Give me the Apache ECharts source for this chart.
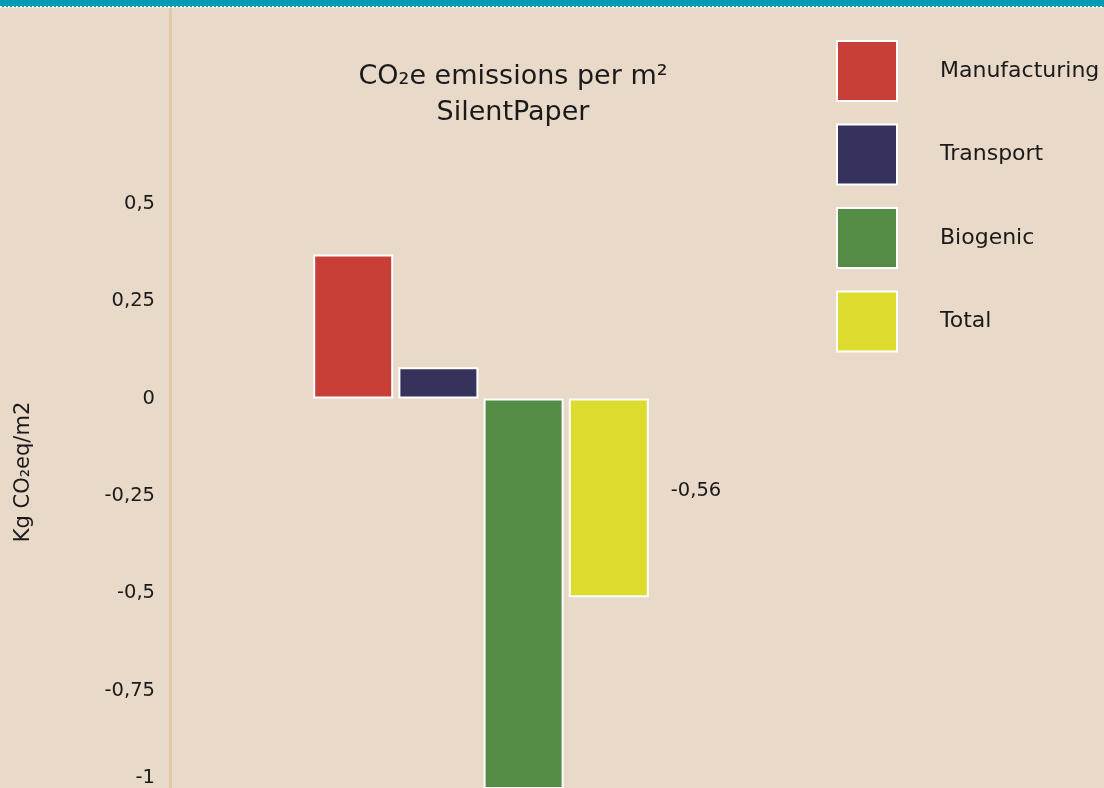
<!DOCTYPE html>
<html><head><meta charset="utf-8">
<script src="https://cdn.jsdelivr.net/npm/echarts@6/dist/echarts.min.js"></script>
<style>html,body{margin:0;padding:0;background:#e9d9c9;}#c{width:1104px;height:788px;}</style>
</head><body><div id="c"></div>
<script>
const categories = [''];
const seriesNames = ['Manufacturing', 'Transport', 'Biogenic', 'Total'];
const manufacturing = [0.37];
const transport = [0.08];
const biogenic = [-1.01];
const total = [-0.51];
const totalLabel = ['-0,56'];
const colors = ['#c83f37', '#35335c', '#538c44', '#dddb2e'];
const titleLines = ['CO\u2082e emissions per m\u00b2', 'SilentPaper'];
const yAxisTitle = 'Kg CO\u2082eq/m2';

const FONT = '"DejaVu Sans", sans-serif';
const chart = echarts.init(document.getElementById('c'), null, {renderer: 'canvas'});
const seriesData = [manufacturing, transport, biogenic, total];
const series = seriesNames.map((n, i) => ({
  name: n,
  type: 'bar',
  data: seriesData[i],
  barWidth: 80,
  barGap: '6.5%',
  itemStyle: {color: colors[i], borderColor: '#ffffff', borderWidth: 2},
  label: i === 3 ? {show: true, position: 'right', distance: 22, formatter: (p) => totalLabel[p.dataIndex], color: '#1a1a1a', fontSize: 19.5, fontFamily: FONT, offset: [0, -7]} : {show: false}
}));
chart.setOption({
  backgroundColor: '#e9d9c9',
  animation: false,
  title: {
    text: titleLines.join('\n'),
    left: 513, top: 59, textAlign: 'center', padding: 0,
    textStyle: {fontSize: 27, fontWeight: 'normal', color: '#1a1a1a', fontFamily: FONT, lineHeight: 36}
  },
  legend: {
    orient: 'vertical', left: 836, top: 40, padding: 0,
    itemWidth: 60, itemHeight: 60, itemGap: 21.5,
    icon: 'rect',
    data: seriesNames,
    textStyle: {fontSize: 22, color: '#1a1a1a', fontFamily: FONT, padding: [4, 0, 0, 38]}
  },
  grid: {left: 170, right: 312, top: 9, bottom: 0, containLabel: false, outerBoundsMode: 'none'},
  xAxis: {type: 'category', data: categories, show: false},
  yAxis: {
    type: 'value', min: -1, max: 1, interval: 0.25,
    axisLine: {show: true, lineStyle: {color: '#e2c8a8', width: 3}},
    axisTick: {show: false},
    splitLine: {show: false},
    axisLabel: {
      margin: 15, fontSize: 19.5, color: '#1a1a1a', fontFamily: FONT,
      verticalAlignMinLabel: 'bottom',
      formatter: (v) => v > 0.5 ? '' : String(v).replace('.', ',')
    }
  },
  graphic: [
    {type: 'rect', shape: {x: 0, y: 0, width: 1104, height: 7}, style: {fill: '#009ab3'}, z: 100},
    {type: 'line', shape: {x1: 0, y1: 7, x2: 1104, y2: 7}, style: {stroke: '#ffffff', lineWidth: 2, lineDash: [2, 2]}, z: 101},
    {type: 'text', x: 24, y: 472, rotation: Math.PI / 2,
     style: {text: yAxisTitle, fontSize: 21, fill: '#1a1a1a', fontFamily: FONT, textAlign: 'center', textVerticalAlign: 'middle'}}
  ],
  series: series
});
</script></body></html>
